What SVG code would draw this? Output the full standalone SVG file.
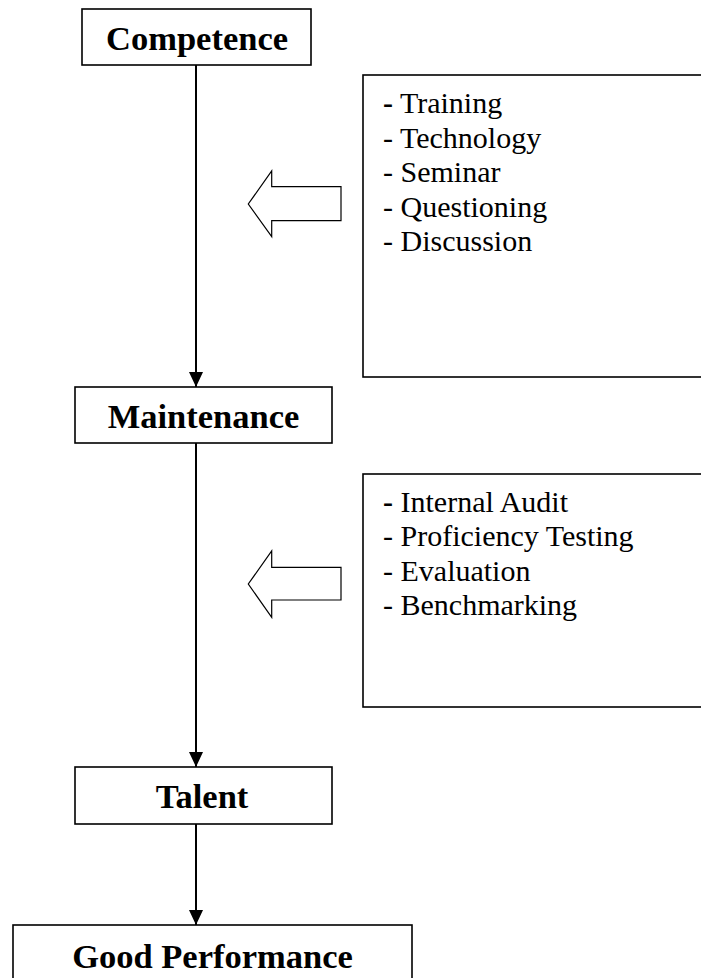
<svg xmlns="http://www.w3.org/2000/svg" width="701" height="978" viewBox="0 0 701 978">
<style>
.box{fill:#fff;stroke:#000;stroke-width:1.6}
.title{font-family:"Liberation Serif","Times New Roman",serif;font-weight:bold;font-size:34.5px;fill:#000;text-anchor:middle}
.list{font-family:"Liberation Serif","Times New Roman",serif;font-size:30px;fill:#000}
.conn{stroke:#000;stroke-width:2;fill:none}
.block{fill:#fff;stroke:#000;stroke-width:1.2;stroke-linejoin:miter}
</style>
<defs>
<marker id="ah" viewBox="0 0 15 14" refX="15" refY="7" markerWidth="15" markerHeight="14" markerUnits="userSpaceOnUse" orient="auto">
<path d="M0,0 L15,7 L0,14 Z" fill="#000"/>
</marker>
</defs>
<rect width="701" height="978" fill="#fff"/>
<g id="connectors">
<line class="conn" x1="196" y1="65" x2="196" y2="387" marker-end="url(#ah)"/>
<line class="conn" x1="196" y1="443" x2="196" y2="767" marker-end="url(#ah)"/>
<line class="conn" x1="196" y1="824" x2="196" y2="925" marker-end="url(#ah)"/>
</g>
<g id="competence">
<rect class="box" x="82" y="9" width="229" height="56"/>
<text class="title" x="197" y="50">Competence</text>
</g>
<g id="maintenance">
<rect class="box" x="75" y="387" width="257" height="56"/>
<text class="title" x="203.5" y="428">Maintenance</text>
</g>
<g id="talent">
<rect class="box" x="75" y="767" width="257" height="57"/>
<text class="title" x="202" y="808">Talent</text>
</g>
<g id="good-performance">
<rect class="box" x="13" y="925" width="399" height="80"/>
<text class="title" x="212.5" y="968">Good Performance</text>
</g>
<g id="list1">
<rect class="box" x="363" y="75" width="400" height="302"/>
<text class="list" x="383" y="113"><tspan font-weight="bold">-</tspan> Training</text>
<text class="list" x="383" y="147.5">- Technology</text>
<text class="list" x="383" y="182">- Seminar</text>
<text class="list" x="383" y="216.5">- Questioning</text>
<text class="list" x="383" y="251">- Discussion</text>
</g>
<g id="arrow1">
<path class="block" d="M341,186.7 L271.7,186.7 L271.7,171 L248.3,204 L271.7,236.7 L271.7,220.7 L341,220.7 Z"/>
</g>
<g id="list2">
<rect class="box" x="363" y="474" width="400" height="233"/>
<text class="list" x="383" y="511.5"><tspan font-weight="bold">-</tspan> Internal Audit</text>
<text class="list" x="383" y="546">- Proficiency Testing</text>
<text class="list" x="383" y="580.5">- Evaluation</text>
<text class="list" x="383" y="615">- Benchmarking</text>
</g>
<g id="arrow2">
<path class="block" d="M341,567.3 L271.7,567.3 L271.7,551 L248.3,584 L271.7,617.3 L271.7,600 L341,600 Z"/>
</g>
</svg>
